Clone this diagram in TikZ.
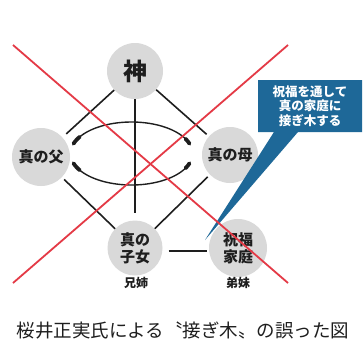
\documentclass[tikz,border=0pt]{standalone}
\usepackage{fontspec}
\newfontfamily\cjk{Noto Sans CJK JP}
\definecolor{circ}{RGB}{217,217,217}
\definecolor{crossred}{RGB}{228,58,70}
\definecolor{callblue}{RGB}{30,104,152}
\definecolor{ink}{RGB}{30,30,30}
\tikzset{
  person/.style={circle,fill=circ,minimum size=56pt,inner sep=0pt,align=center,
    font=\cjk\bfseries\fontsize{15}{17}\selectfont,text=ink},
  tie/.style={line width=1.6pt,ink},
  cross/.style={line width=1.8pt,crossred},
  sub/.style={font=\cjk\bfseries\fontsize{12}{14}\selectfont,text=ink},
}
\begin{document}
\begin{tikzpicture}[x=1pt,y=-1pt]
\useasboundingbox (0,0) rectangle (364,343);
\fill[white] (0,0) rectangle (364,343);
% nodes
\node[person,font=\cjk\bfseries\fontsize{24}{26}\selectfont] (god) at (135,71) {神};
\node[person,minimum size=58pt] (fa) at (41,157) {真の父};
\node[person] (mo) at (230,155) {真の母};
\node[person,minimum size=55pt] (ch) at (135,248) {真の\\子女};
\node[person,minimum size=58pt] (bf) at (238,248) {祝福\\家庭};
\node[sub] (ch2) at (136,283) {兄姉};
\node[sub] (bf2) at (238,283) {弟妹};
% connectors
\draw[tie,shorten >=5pt] (god) -- (fa);
\draw[tie,shorten >=3pt] (god) -- (mo);
\draw[tie,shorten >=7pt] (god.south) -- (ch.north);
\draw[tie,shorten <=3pt] (fa) -- (ch);
\draw[tie,shorten <=3pt] (mo) -- (ch);
\draw[tie,shorten <=6pt,shorten >=2pt] ([yshift=-3pt]ch.east) -- ([yshift=-3pt]bf.west);
% circular arrows
\draw[line width=1.4pt,ink] plot[domain=20:160,samples=50] ({131.5+61*cos(\x)},{153.5-31.5*sin(\x)});
\draw[line width=1.4pt,ink] plot[domain=200:340,samples=50] ({131.5+61*cos(\x)},{153.5-31.5*sin(\x)});
\foreach \a/\b in {148/162,18/28,198/212,332/342}{
  \draw[line width=3.8pt,ink,line cap=round] plot[domain=\a:\b,samples=10] ({131.5+61*cos(\x)},{153.5-31.5*sin(\x)});
}
% callout
\fill[callblue] (258,80) -- (362,80) -- (362,132) -- (298,132) -- (205,240) -- (274,132) -- (258,132) -- cycle;
\node[font=\cjk\bfseries\fontsize{12.5}{14.5}\selectfont,text=white,align=center] (call) at (310,106) {祝福を通して\\真の家庭に\\接ぎ木する};
% red cross
\coordinate (r1) at (13,45);
\coordinate (r2) at (288,283);
\coordinate (r3) at (13,283);
\coordinate (r4) at (288,45);
\draw[cross] (r1) -- (r2);
\draw[cross] (r3) -- (r4);
% caption
\node[font=\cjk\fontsize{18.5}{21}\selectfont,text=ink] (cap) at (183,330) {桜井正実氏による〝接ぎ木〟の誤った図};
\end{tikzpicture}
\end{document}
